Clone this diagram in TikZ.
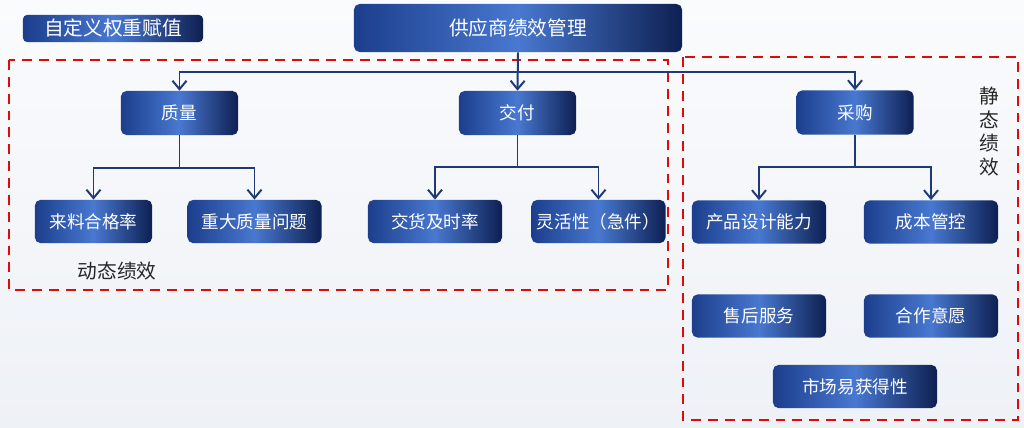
\documentclass[tikz,border=0pt]{standalone}
\usepackage{fontspec}
\setmainfont{Noto Sans CJK SC}
\usetikzlibrary{arrows.meta}
\definecolor{boxleft}{RGB}{28,62,140}
\definecolor{boxmid}{RGB}{72,120,208}
\definecolor{boxright}{RGB}{14,32,82}
\definecolor{linkblue}{RGB}{30,58,120}
\definecolor{dashred}{RGB}{225,10,10}
\definecolor{bgtop}{RGB}{250,251,253}
\definecolor{bgbottom}{RGB}{238,241,246}

\begin{document}
\begin{tikzpicture}[x=0.025cm,y=-0.025cm,
  box/.style={rounded corners=4pt,left color=boxleft,right color=boxright,middle color=boxmid,
    text=white,inner sep=0pt,font=\fontsize{12.5}{15}\selectfont,minimum height=1.08cm},
  topbox/.style={box,minimum width=8.2cm,minimum height=1.2cm,font=\fontsize{14}{17}\selectfont},
  tagbox/.style={box,rounded corners=3pt,minimum width=4.5cm,minimum height=0.68cm,font=\fontsize{14}{17}\selectfont},
  midbox/.style={box,minimum width=2.93cm,minimum height=1.1cm},
  leafbox/.style={box,minimum width=3.35cm},
  wire/.style={draw=linkblue,line width=1.4pt},
  link/.style={wire,-{Straight Barb[length=6pt,width=10pt,line width=1.4pt]}},
  group/.style={draw=dashred,line width=1.8pt,dash pattern=on 7pt off 5pt},
  note/.style={text=black!85,font=\fontsize{14}{17}\selectfont,inner sep=0pt}]
\useasboundingbox[top color=bgtop,bottom color=bgbottom] (0,0) rectangle (1024,427);

\draw[group] (9,60) rectangle (668,290);
\draw[group] (683,57) rectangle (1018,420);

\node[tagbox] (tag) at (113,28.5) {自定义权重赋值};
\node[topbox] (top) at (518,28) {供应商绩效管理};

\node[midbox] (zl) at (179.5,113) {质量};
\node[midbox] (jf) at (517.5,113) {交付};
\node[midbox] (cg) at (855,112.5) {采购};

\node[leafbox,minimum width=2.93cm] (llhg) at (93.5,221.5) {来料合格率};
\node[leafbox] (zdzl) at (254.5,221.5) {重大质量问题};
\node[leafbox] (jhjs) at (435,221.5) {交货及时率};
\node[leafbox] (lhx) at (598.5,221.5) {灵活性（急件）};
\node[leafbox] (cpsj) at (759,222) {产品设计能力};
\node[leafbox] (cbgk) at (931,222) {成本管控};
\node[leafbox] (shfw) at (759,316) {售后服务};
\node[leafbox] (hzyy) at (931,316) {合作意愿};
\node[leafbox,minimum width=4.1cm] (scyh) at (855,386.5) {市场易获得性};

\coordinate (bus) at (518,72);
\draw[link] (top.south) -- (jf.north);
\draw[link] (bus) -| (zl.north);
\draw[link] (bus) -| (cg.north);

\coordinate (zlbus) at (179.5,168);
\draw[wire] (zl.south) -- (zlbus);
\draw[link] (zlbus) -| (llhg.north);
\draw[link] (zlbus) -| (zdzl.north);

\coordinate (jfbus) at (517.5,167);
\draw[wire] (jf.south) -- (jfbus);
\draw[link] (jfbus) -| (jhjs.north);
\draw[link] (jfbus) -| (lhx.north);

\coordinate (cgbus) at (855,167);
\draw[wire] (cg.south) -- (cgbus);
\draw[link] (cgbus) -| (cpsj.north);
\draw[link] (cgbus) -| (cbgk.north);

\node[note] (dt) at (117,271) {动态绩效};
\node[note,align=center] (jt) at (989,131.5) {静\\态\\绩\\效};
\end{tikzpicture}
\end{document}
